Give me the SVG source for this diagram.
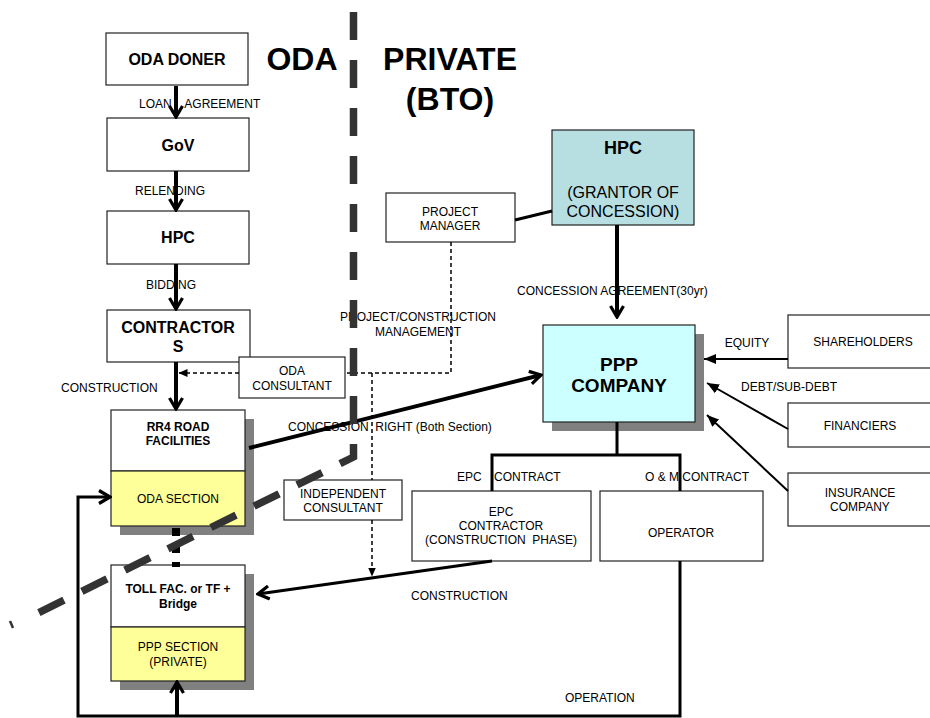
<svg xmlns="http://www.w3.org/2000/svg" width="930" height="718" viewBox="0 0 930 718">
<defs>
<style>
text{font-family:"Liberation Sans",Arial,sans-serif;fill:#000}
.b{font-weight:bold}
.c{text-anchor:middle}
.s12{font-size:12px}
.s16{font-size:16px}
.box{fill:#fff;stroke:#222;stroke-width:1.2}
.yel{fill:#FFFF99;stroke:#222;stroke-width:1.2}
.shd{fill:#808080}
.thick{fill:none;stroke:#000;stroke-width:4}
.med{fill:none;stroke:#000;stroke-width:3}
.thin{fill:none;stroke:#000;stroke-width:2}
.dash{fill:none;stroke:#000;stroke-width:1.5;stroke-dasharray:4 3}
</style>
<marker id="chev" markerUnits="userSpaceOnUse" markerWidth="16" markerHeight="16" viewBox="0 0 16 16" refX="14" refY="8" orient="auto">
<path d="M3,1.5 L14,8 L3,14.5" fill="none" stroke="#000" stroke-width="3.2"/>
</marker>
<marker id="tri" markerUnits="userSpaceOnUse" markerWidth="13" markerHeight="11" viewBox="0 0 13 11" refX="12" refY="5.5" orient="auto">
<path d="M0,0.5 L12,5.5 L0,10.5 z" fill="#000"/>
</marker>
<marker id="tris" markerUnits="userSpaceOnUse" markerWidth="9" markerHeight="8" viewBox="0 0 9 8" refX="8.5" refY="4" orient="auto">
<path d="M0,0 L9,4 L0,8 z" fill="#000"/>
</marker>
</defs>

<text class="b c" x="302" y="70" style="font-size:32px">ODA</text>
<text class="b c" x="450" y="70" style="font-size:32px">PRIVATE</text>
<text class="b c" x="450" y="110" style="font-size:32px">(BTO)</text>

<g id="oda-doner"><rect class="box" x="106" y="33" width="142" height="52"/><text class="b c s16" x="177" y="65">ODA DONER</text></g>
<g id="gov"><rect class="box" x="107" y="118" width="142" height="53"/><text class="b c s16" x="178" y="151">GoV</text></g>
<g id="hpc-left"><rect class="box" x="107" y="211" width="142" height="53"/><text class="b c s16" x="178" y="243">HPC</text></g>
<g id="contractors"><rect class="box" x="107" y="310" width="143" height="52"/><text class="b c s16" x="178" y="333">CONTRACTOR</text><text class="b c s16" x="178" y="352">S</text></g>
<g id="rr4"><rect class="shd" x="120" y="419" width="134" height="116"/><rect class="box" x="111" y="410" width="134" height="61"/><rect class="yel" x="111" y="471" width="134" height="55"/>
<text class="b c s12" x="178" y="431">RR4 ROAD</text><text class="b c s12" x="178" y="445">FACILITIES</text><text class="c s12" x="178" y="503">ODA SECTION</text></g>
<g id="toll"><rect class="shd" x="120" y="574" width="134" height="116"/><rect class="box" x="111" y="565" width="134" height="62"/><rect class="yel" x="111" y="627" width="134" height="54"/>
<text class="b c s12" x="178" y="593">TOLL FAC. or TF +</text><text class="b c s12" x="178" y="608">Bridge</text><text class="c s12" x="178" y="651">PPP SECTION</text><text class="c s12" x="178" y="666">(PRIVATE)</text></g>
<g id="oda-consultant"><rect class="box" x="239" y="357" width="106" height="41"/><text class="c s12" x="292" y="375">ODA</text><text class="c s12" x="292" y="390">CONSULTANT</text></g>
<g id="independent-consultant"><rect class="box" x="284" y="480" width="118" height="40"/><text class="c s12" x="343" y="498">INDEPENDENT</text><text class="c s12" x="343" y="512">CONSULTANT</text></g>
<g id="project-manager"><rect class="box" x="386" y="193" width="129" height="49"/><text class="c s12" x="450" y="216">PROJECT</text><text class="c s12" x="450" y="230">MANAGER</text></g>
<g id="hpc-grantor"><rect x="552" y="130" width="142" height="95" fill="#B7DEE0" stroke="#222" stroke-width="1.2"/>
<text class="b c" x="623" y="154" style="font-size:18px">HPC</text><text class="c s16" x="623" y="198">(GRANTOR OF</text><text class="c s16" x="623" y="217">CONCESSION)</text></g>
<g id="ppp-company"><rect class="shd" x="552" y="334" width="152" height="97"/><rect x="543" y="325" width="152" height="97" fill="#CCFFFF" stroke="#222" stroke-width="1.2"/>
<text class="b c" x="619" y="371" style="font-size:19px">PPP</text><text class="b c" x="619" y="392" style="font-size:19px">COMPANY</text></g>
<g id="shareholders"><rect class="box" x="788" y="315" width="150" height="53"/><text class="c s12" x="863" y="346">SHAREHOLDERS</text></g>
<g id="financiers"><rect class="box" x="788" y="403" width="150" height="44"/><text class="c s12" x="860" y="430">FINANCIERS</text></g>
<g id="insurance"><rect class="box" x="788" y="473" width="150" height="53"/><text class="c s12" x="860" y="497">INSURANCE</text><text class="c s12" x="860" y="511">COMPANY</text></g>
<g id="epc"><rect class="box" x="412" y="491" width="179" height="70"/><text class="c s12" x="501" y="516">EPC</text><text class="c s12" x="501" y="530">CONTRACTOR</text><text class="c s12" x="501" y="544" xml:space="preserve">(CONSTRUCTION  PHASE)</text></g>
<g id="operator"><rect class="box" x="600" y="491" width="163" height="70"/><text class="c s12" x="681" y="537">OPERATOR</text></g>

<g id="connectors">
<text class="s12" x="139" y="108" style="word-spacing:10px">LOAN AGREEMENT</text>
<text class="s12" x="135" y="195">RELENDING</text>
<text class="s12" x="146" y="289">BIDDING</text>
<text class="s12" x="61" y="392">CONSTRUCTION</text>
<text class="c s12" x="418" y="321">PROJECT/CONSTRUCTION</text>
<text class="c s12" x="418" y="336">MANAGEMENT</text>
<text class="s12" x="517" y="295">CONCESSION AGREEMENT(30yr)</text>
<text class="s12" x="288" y="431" xml:space="preserve">CONCESSION  RIGHT (Both Section)</text>
<text class="c s12" x="747" y="347">EQUITY</text>
<text class="s12" x="741" y="391">DEBT/SUB-DEBT</text>
<text class="s12" x="457" y="481" style="word-spacing:9px">EPC CONTRACT</text>
<text class="s12" x="645" y="481">O &amp; M CONTRACT</text>
<text class="s12" x="411" y="600">CONSTRUCTION</text>
<text class="s12" x="565" y="702">OPERATION</text>

<path class="thick" d="M176,86 V117" marker-end="url(#chev)"/>
<path class="thick" d="M176,171 V210" marker-end="url(#chev)"/>
<path class="thick" d="M176,264 V309" marker-end="url(#chev)"/>
<path class="thick" d="M176,362 V409" marker-end="url(#chev)"/>
<path class="med" d="M515,220 L552,211"/>
<path class="thick" d="M617,225 V317" marker-end="url(#chev)"/>
<path class="thick" d="M249,448 L541,375" marker-end="url(#chev)"/>
<path class="med" d="M617,422 V455 M492,491 V455 H680 V491"/>
<path class="thin" d="M788,359 H704" marker-end="url(#tri)"/>
<path class="thin" d="M788,429 L707,383" marker-end="url(#tri)"/>
<path class="thin" d="M788,491 L707,415" marker-end="url(#tri)"/>
<path class="med" d="M492,561 L258,594" marker-end="url(#chev)"/>
<path class="med" d="M680,561 V716 H78 V497 H110" marker-end="url(#chev)"/>
<path class="thick" d="M177,716 V682" marker-end="url(#chev)"/>
<path class="dash" d="M451,242 V373 H345"/>
<path class="dash" d="M372,373 V480"/>
<path class="dash" d="M372,520 V576" marker-end="url(#tris)"/>
<path class="dash" d="M239,373 H179" marker-end="url(#tris)"/>
<path d="M176,528 V567" fill="none" stroke="#000" stroke-width="8" stroke-dasharray="8 9"/>
</g>

<g id="divider">
<path d="M353.5,12 V457 L28,618" fill="none" stroke="#333" stroke-width="7.5" stroke-dasharray="28 20" stroke-linejoin="miter"/>
<path d="M10,621 L13,628" fill="none" stroke="#333" stroke-width="2.5"/>
</g>
</svg>
